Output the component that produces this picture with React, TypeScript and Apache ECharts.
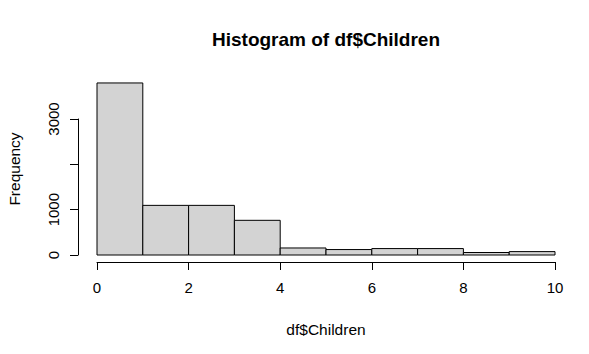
import React, { useEffect, useRef } from "react";
import * as echarts from "echarts";

const binStarts = [0, 1, 2, 3, 4, 5, 6, 7, 8, 9];
const binEnds = [1, 2, 3, 4, 5, 6, 7, 8, 9, 10];
const counts = [3795, 1095, 1095, 765, 155, 120, 142, 142, 55, 75];
const yTickLabels = ["0", "1000", "", "3000"];
const xTickValues = [0, 2, 4, 6, 8, 10];
const title = "Histogram of df$Children";
const xLabel = "df$Children";
const yLabel = "Frequency";

const FONT = '"Liberation Sans", Arial, sans-serif';

export default function App() {
  const ref = useRef<HTMLDivElement>(null);
  useEffect(() => {
    if (!ref.current) return;
    const chart = echarts.init(ref.current, undefined, { renderer: "svg" });
    const data = binStarts.map((s, i) => [s, binEnds[i], counts[i]]);
    chart.setOption({
      animation: false,
      backgroundColor: "#ffffff",
      grid: { left: 97, right: 34, top: 119, bottom: 99 },
      xAxis: {
        type: "value",
        min: 0,
        max: 10,
        interval: 2,
        offset: 7,
        splitLine: { show: false },
        axisLine: { show: true, onZero: false, lineStyle: { color: "#000", width: 1 } },
        axisTick: { show: true, length: 8, lineStyle: { color: "#000", width: 1 } },
        axisLabel: {
          color: "#000",
          fontSize: 15,
          fontFamily: FONT,
          margin: 18,
          formatter: (v: number) => (xTickValues.includes(v) ? String(v) : ""),
        },
      },
      yAxis: {
        type: "value",
        min: 0,
        max: 3000,
        interval: 1000,
        offset: 19,
        splitLine: { show: false },
        axisLine: { show: true, onZero: false, lineStyle: { color: "#000", width: 1 } },
        axisTick: { show: true, length: 8, lineStyle: { color: "#000", width: 1 } },
        axisLabel: {
          color: "#000",
          fontSize: 15,
          fontFamily: FONT,
          rotate: 90,
          margin: 17,
          formatter: (v: number) => yTickLabels[Math.round(v / 1000)] ?? "",
        },
      },
      graphic: [
        {
          type: "text",
          x: 326,
          y: 39,
          style: {
            text: title,
            font: `bold 19px ${FONT}`,
            align: "center",
            verticalAlign: "middle",
            fill: "#000",
          },
        },
        {
          type: "text",
          x: 326,
          y: 329,
          style: {
            text: xLabel,
            font: `15.5px ${FONT}`,
            align: "center",
            verticalAlign: "middle",
            fill: "#000",
          },
        },
        {
          type: "text",
          x: 14,
          y: 169,
          rotation: Math.PI / 2,
          style: {
            text: yLabel,
            font: `15.5px ${FONT}`,
            align: "center",
            verticalAlign: "middle",
            fill: "#000",
          },
        },
      ],
      series: [
        {
          type: "custom",
          clip: false,
          encode: { x: [0, 1], y: 2 },
          data,
          renderItem: (params: any, api: any) => {
            const start = api.value(0);
            const end = api.value(1);
            const v = api.value(2);
            const p0 = api.coord([start, v]);
            const p1 = api.coord([end, 0]);
            return {
              type: "rect",
              shape: { x: p0[0], y: p0[1], width: p1[0] - p0[0], height: p1[1] - p0[1] },
              style: { fill: "#D3D3D3", stroke: "#000", lineWidth: 1 },
            };
          },
        },
      ],
    });
    return () => chart.dispose();
  }, []);
  return (
    <div
      ref={ref}
      style={{ position: "fixed", left: 0, top: 0, width: 589, height: 354 }}
    />
  );
}
